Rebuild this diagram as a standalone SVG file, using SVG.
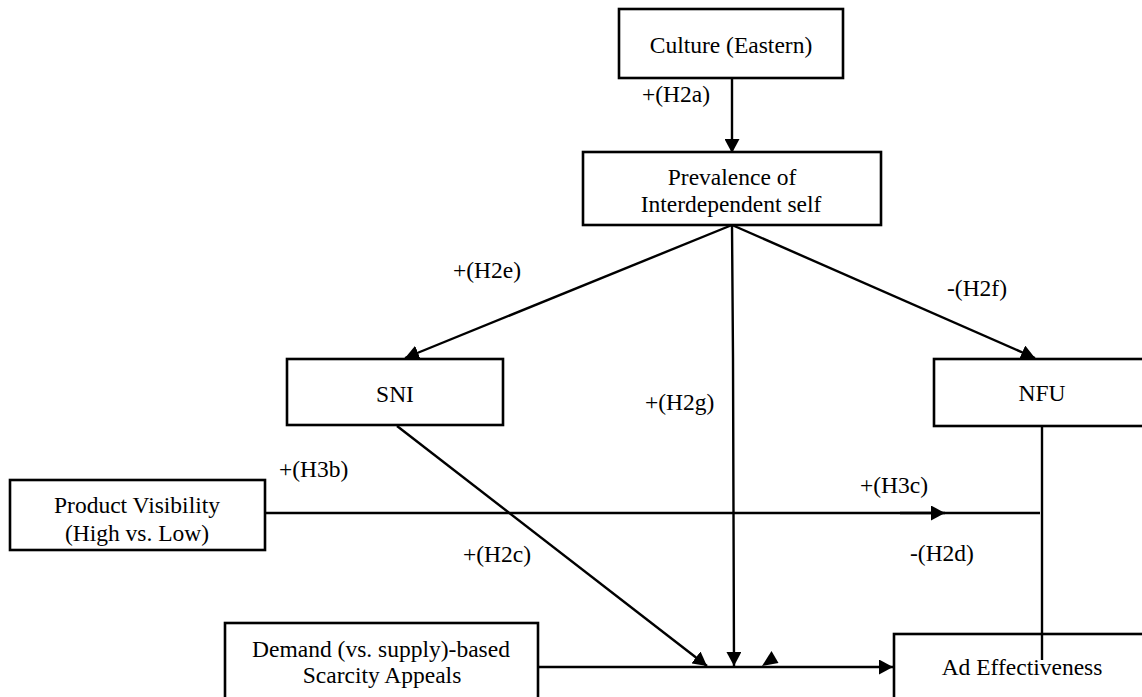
<svg xmlns="http://www.w3.org/2000/svg" width="1142" height="697" viewBox="0 0 1142 697">
<style>
.box{fill:#fff;stroke:#000;stroke-width:2.6}
.t{font-family:"Liberation Serif","Times New Roman",serif;font-size:23.5px;fill:#000}
.c{text-anchor:middle}
.ln{fill:none;stroke:#000;stroke-width:2.4}
</style>
<defs>
<marker id="ah" markerWidth="15" markerHeight="15" refX="14" refY="7.5" orient="auto" markerUnits="userSpaceOnUse">
<path d="M0,0 L14,7.5 L0,15 z" fill="#000"/>
</marker>
</defs>
<rect width="1142" height="697" fill="#fff"/>
<g id="culture">
<rect class="box" x="619" y="9" width="224" height="69"/>
<text class="t c" x="731" y="53">Culture (Eastern)</text>
</g>
<g id="prevalence">
<rect class="box" x="583" y="152" width="298" height="73"/>
<text class="t c" x="732" y="185">Prevalence of</text>
<text class="t c" x="731" y="212">Interdependent self</text>
</g>
<g id="sni">
<rect class="box" x="287" y="359" width="216" height="66"/>
<text class="t c" x="395" y="402">SNI</text>
</g>
<g id="nfu">
<rect class="box" x="934" y="359" width="220" height="67"/>
<text class="t c" x="1042" y="401">NFU</text>
</g>
<g id="visibility">
<rect class="box" x="10" y="480" width="255" height="70"/>
<text class="t c" x="137" y="513">Product Visibility</text>
<text class="t c" x="137" y="541">(High vs. Low)</text>
</g>
<g id="demand">
<rect class="box" x="225" y="623" width="313" height="90"/>
<text class="t c" x="381" y="657">Demand (vs. supply)-based</text>
<text class="t c" x="382" y="683">Scarcity Appeals</text>
</g>
<g id="adeff">
<rect class="box" x="894" y="634" width="260" height="80"/>
<text class="t c" x="1022" y="675">Ad Effectiveness</text>
</g>
<g id="connectors">
<path class="ln" d="M732,78 L732,153" marker-end="url(#ah)"/>
<path class="ln" d="M732,225 L405,358" marker-end="url(#ah)"/>
<path class="ln" d="M732,225 L1035,358" marker-end="url(#ah)"/>
<path class="ln" d="M732,225 L733,358 L734,666" marker-end="url(#ah)"/>
<path class="ln" d="M397,426 L707,666" marker-end="url(#ah)"/>
<path class="ln" d="M265,513 L1040,513"/>
<path class="ln" d="M900,513 L945,513" marker-end="url(#ah)"/>
<path class="ln" d="M1042,426 L1042,660"/>
<path class="ln" d="M538,667 L893,667" marker-end="url(#ah)"/>
<polygon points="762,666 771.5,651 778.5,663" fill="#000"/>
</g>
<g id="labels">
<text class="t" x="642" y="102">+(H2a)</text>
<text class="t" x="453" y="278">+(H2e)</text>
<text class="t" x="947" y="296">-(H2f)</text>
<text class="t" x="645" y="410">+(H2g)</text>
<text class="t" x="279" y="477">+(H3b)</text>
<text class="t" x="860" y="493">+(H3c)</text>
<text class="t" x="463" y="562">+(H2c)</text>
<text class="t" x="910" y="561">-(H2d)</text>
</g>
</svg>
